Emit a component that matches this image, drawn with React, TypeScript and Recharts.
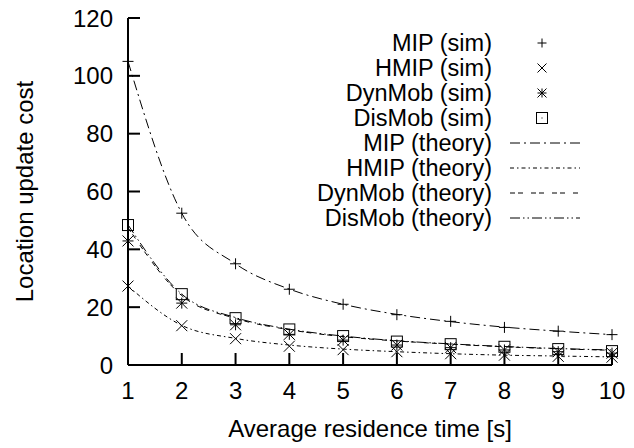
import React from 'react';
import { ComposedChart, Line, XAxis, YAxis, Legend, Label } from 'recharts';

const residenceTimes = [1, 2, 3, 4, 5, 6, 7, 8, 9, 10];
const mipSim = [105, 52.5, 35, 26.2, 21, 17.4, 15.1, 13, 11.7, 10.5];
const hmipSim = [27.3, 13.6, 9.1, 6.5, 5.3, 4.6, 3.9, 3.4, 3.0, 2.7];
const dynMobSim = [42.9, 21.4, 13.9, 10.6, 8.6, 6.9, 6.0, 5.2, 4.6, 4.1];
const disMobSim = [48.4, 24.5, 16.2, 12.3, 10.0, 8.1, 7.2, 6.3, 5.5, 4.8];
const mipTheory = [105, 52.5, 35, 26.25, 21, 17.5, 15, 13.1, 11.7, 10.5];
const hmipTheory = [27.3, 13.7, 9.2, 6.9, 5.5, 4.6, 3.9, 3.4, 3.1, 2.8];
const dynMobTheory = [47.5, 24, 16.1, 12.2, 9.8, 8.3, 7.2, 6.3, 5.6, 5.1];
const disMobTheory = [48.5, 24.5, 16.4, 12.4, 10, 8.4, 7.3, 6.4, 5.7, 5.2];

const xTicks = [1, 2, 3, 4, 5, 6, 7, 8, 9, 10];
const yTicks = [0, 20, 40, 60, 80, 100, 120];

const simNames = ['MIP (sim)', 'HMIP (sim)', 'DynMob (sim)', 'DisMob (sim)'];
const theoryNames = ['MIP (theory)', 'HMIP (theory)', 'DynMob (theory)', 'DisMob (theory)'];
const simKinds = ['plus', 'cross', 'star', 'box'];
const theoryDashes = ['10 4 2 4', '4 3 1.5 3', '5 3 5 8', '10 3 1.5 3 1.5 3'];

const data = residenceTimes.map((t, i) => ({
  t,
  mipSim: mipSim[i],
  hmipSim: hmipSim[i],
  dynMobSim: dynMobSim[i],
  disMobSim: disMobSim[i],
  mipTheory: mipTheory[i],
  hmipTheory: hmipTheory[i],
  dynMobTheory: dynMobTheory[i],
  disMobTheory: disMobTheory[i],
}));

const simKeys = ['mipSim', 'hmipSim', 'dynMobSim', 'disMobSim'];
const theoryKeys = ['mipTheory', 'hmipTheory', 'dynMobTheory', 'disMobTheory'];

const FONT = '"Liberation Sans", Arial, Helvetica, sans-serif';
const AXIS_FONT = 24;
const LEGEND_FONT = 23.5;

function MarkerShape({ cx, cy, kind, size }: { cx: number; cy: number; kind: string; size: number }) {
  const h = size / 2;
  const common = { stroke: '#000', strokeWidth: 1, fill: 'none' };
  if (kind === 'plus') {
    return (
      <g>
        <line x1={cx - h} y1={cy} x2={cx + h} y2={cy} {...common} />
        <line x1={cx} y1={cy - h} x2={cx} y2={cy + h} {...common} />
      </g>
    );
  }
  if (kind === 'cross') {
    return (
      <g>
        <line x1={cx - h} y1={cy - h} x2={cx + h} y2={cy + h} {...common} />
        <line x1={cx - h} y1={cy + h} x2={cx + h} y2={cy - h} {...common} />
      </g>
    );
  }
  if (kind === 'star') {
    return (
      <g>
        <line x1={cx - h} y1={cy} x2={cx + h} y2={cy} {...common} />
        <line x1={cx} y1={cy - h} x2={cx} y2={cy + h} {...common} />
        <line x1={cx - h} y1={cy - h} x2={cx + h} y2={cy + h} {...common} />
        <line x1={cx - h} y1={cy + h} x2={cx + h} y2={cy - h} {...common} />
      </g>
    );
  }
  return (
    <g>
      <rect x={cx - h} y={cy - h} width={size} height={size} {...common} />
      <rect x={cx - 0.5} y={cy - 0.5} width={1} height={1} fill="#000" />
    </g>
  );
}

function LegendContent() {
  const rows = [
    ...simNames.map((n, i) => ({ name: n, kind: simKinds[i], dash: null as string | null })),
    ...theoryNames.map((n, i) => ({ name: n, kind: null as string | null, dash: theoryDashes[i] })),
  ];
  return (
    <svg width={634} height={448} style={{ display: 'block', position: 'absolute', left: 0, top: 0 }}>
      {rows.map((r, i) => {
        const cy = 43 + 25 * i;
        return (
          <g key={r.name}>
            <text x={492} y={cy + 8} textAnchor="end" fontFamily={FONT} fontSize={LEGEND_FONT} fill="#000">
              {r.name}
            </text>
            {r.kind ? (
              <MarkerShape cx={542} cy={cy} kind={r.kind} size={r.kind === 'box' ? 11 : 9} />
            ) : (
              <line x1={510} y1={cy} x2={580} y2={cy} stroke="#000" strokeWidth={1} strokeDasharray={r.dash || undefined} />
            )}
          </g>
        );
      })}
    </svg>
  );
}

const axisLineStyle = { stroke: '#000', strokeWidth: 2 };
const tickStyle = { fill: '#000', fontSize: AXIS_FONT, fontFamily: FONT };

export default function App() {
  return (
    <div style={{ position: 'absolute', left: 0, top: 0, width: 634, height: 448, background: '#fff' }}>
      <ComposedChart width={634} height={448} data={data} margin={{ top: 18, right: 22, bottom: 0, left: 0 }}>
        <XAxis
          dataKey="t"
          type="number"
          domain={[1, 10]}
          ticks={xTicks}
          interval={0}
          height={83}
          tickSize={-12}
          tickMargin={29}
          axisLine={axisLineStyle}
          tickLine={axisLineStyle}
          tick={tickStyle}
        >
          <Label
            content={(props: any) => {
              const vb = props.viewBox || { x: 128, y: 365, width: 484, height: 83 };
              return (
                <text x={vb.x + vb.width / 2} y={vb.y + 72} textAnchor="middle" fontFamily={FONT} fontSize={AXIS_FONT} fill="#000">
                  Average residence time [s]
                </text>
              );
            }}
          />
        </XAxis>
        <XAxis
          xAxisId="top"
          dataKey="t"
          orientation="top"
          type="number"
          domain={[1, 10]}
          ticks={xTicks}
          interval={0}
          height={0}
          tickSize={-12}
          axisLine={axisLineStyle}
          tickLine={axisLineStyle}
          tick={false}
        />
        <YAxis
          type="number"
          domain={[0, 120]}
          ticks={yTicks}
          interval={0}
          width={128}
          tickSize={-12}
          tickMargin={27}
          axisLine={axisLineStyle}
          tickLine={axisLineStyle}
          tick={tickStyle}
        >
          <Label
            content={(props: any) => {
              const vb = props.viewBox || { x: 0, y: 18, width: 128, height: 347 };
              const cx = vb.x + 33;
              const cy = vb.y + vb.height / 2;
              return (
                <text x={cx} y={cy} transform={`rotate(-90 ${cx} ${cy})`} textAnchor="middle" fontFamily={FONT} fontSize={AXIS_FONT} fill="#000">
                  Location update cost
                </text>
              );
            }}
          />
        </YAxis>
        <YAxis
          yAxisId="right"
          orientation="right"
          type="number"
          domain={[0, 120]}
          ticks={yTicks}
          interval={0}
          width={0}
          tickSize={-12}
          axisLine={axisLineStyle}
          tickLine={axisLineStyle}
          tick={false}
        />
        <Legend
          verticalAlign="middle"
          align="center"
          layout="horizontal"
          content={LegendContent}
          wrapperStyle={{ position: 'absolute', left: 0, top: 0, width: 634, height: 448, pointerEvents: 'none' }}
        />
        {theoryKeys.map((k, i) => (
          <Line
            key={k}
            dataKey={k}
            name={theoryNames[i]}
            type="monotone"
            stroke="#000"
            strokeWidth={1}
            strokeDasharray={theoryDashes[i]}
            dot={false}
            activeDot={false}
            isAnimationActive={false}
          />
        ))}
        {simKeys.map((k, i) => (
          <Line
            key={k}
            dataKey={k}
            name={simNames[i]}
            stroke="none"
            strokeWidth={0}
            activeDot={false}
            isAnimationActive={false}
            dot={(p: any) => (
              <MarkerShape key={`${k}-${p.index}`} cx={p.cx} cy={p.cy} kind={simKinds[i]} size={11} />
            )}
          />
        ))}
      </ComposedChart>
    </div>
  );
}
